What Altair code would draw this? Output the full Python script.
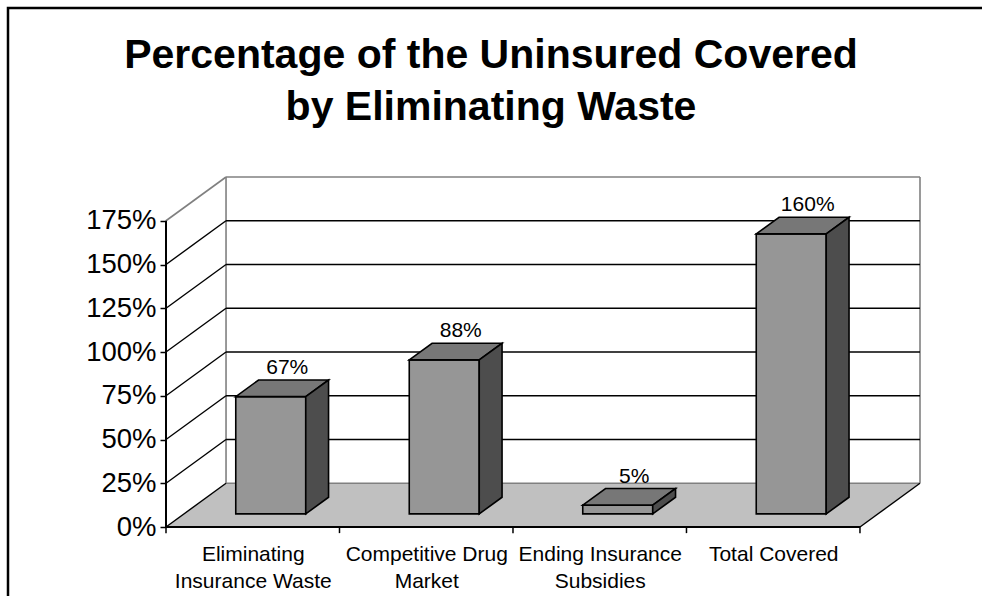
import json
import altair as alt
import pandas as pd

# ---- data ----
categories = ["Eliminating Insurance Waste", "Competitive Drug Market",
              "Ending Insurance Subsidies", "Total Covered"]
category_lines = [["Eliminating", "Insurance Waste"], ["Competitive Drug", "Market"],
                  ["Ending Insurance", "Subsidies"], ["Total Covered"]]
values = [67, 88, 5, 160]
y_ticks = [0, 25, 50, 75, 100, 125, 150, 175]
title_lines = ["Percentage of the Uninsured Covered", "by Eliminating Waste"]

# ---- 3-D styling geometry (in data units) ----
DX, DY = 0.346, 25.0          # depth of the floor / walls
OFF, BD = 0.30, 0.38          # bar depth position and thickness (fraction of depth)
HALF = 0.2017                 # half bar width
LBL_DX = 0.095
N = len(categories)
YMAX = y_ticks[-1]
FONT = "Liberation Sans"

# floor parallelogram
floor = pd.DataFrame({"x": [0, DX, N, N + DX], "y": [0, 0, 0, DY], "y2": [0, DY, DY, DY]})

# wall / grid segments
black_rows, gray_rows = [], []
sid = 0
for t in y_ticks:
    if t < YMAX:
        black_rows += [{"s": sid, "x": 0, "y": t}, {"s": sid, "x": DX, "y": t + DY}]
        sid += 1
    else:
        gray_rows += [{"s": sid, "x": 0, "y": t}, {"s": sid, "x": DX, "y": t + DY}]
        sid += 1
    if 0 < t < YMAX:
        black_rows += [{"s": sid, "x": DX, "y": t + DY}, {"s": sid, "x": N + DX, "y": t + DY}]
        sid += 1
# right floor edge
black_rows += [{"s": sid, "x": N, "y": 0}, {"s": sid, "x": N + DX, "y": DY}]; sid += 1
# back wall border (gray)
for (a, b) in [((DX, DY), (N + DX, DY)), ((N + DX, DY), (N + DX, YMAX + DY)),
               ((DX, YMAX + DY), (N + DX, YMAX + DY)), ((DX, DY), (DX, YMAX + DY))]:
    gray_rows += [{"s": sid, "x": a[0], "y": a[1]}, {"s": sid, "x": b[0], "y": b[1]}]
    sid += 1
black = pd.DataFrame(black_rows)
gray = pd.DataFrame(gray_rows)

# axis lines (front)
axis_rows = [{"s": 0, "x": 0, "y": 0}, {"s": 0, "x": N, "y": 0},
             {"s": 1, "x": 0, "y": 0}, {"s": 1, "x": 0, "y": YMAX}]
axis_df = pd.DataFrame(axis_rows)
xticks_df = pd.DataFrame({"x": list(range(N + 1)), "y": [0] * (N + 1), "y2": [-3.5] * (N + 1)})

# bars
fronts, tops, sides, labels = [], [], [], []
for i, v in enumerate(values):
    cx = i + 0.5 + OFF * DX
    x0, x1 = cx - HALF, cx + HALF
    yb = OFF * DY
    yt = yb + v
    bdx, bdy = BD * DX, BD * DY
    fronts.append({"x": x0, "x2": x1, "y": yb, "y2": yt})
    tops += [{"b": i, "x": x0, "y": yt, "y2": yt},
             {"b": i, "x": x0 + bdx, "y": yt, "y2": yt + bdy},
             {"b": i, "x": x1, "y": yt, "y2": yt + bdy},
             {"b": i, "x": x1 + bdx, "y": yt + bdy, "y2": yt + bdy}]
    sides += [{"b": i, "x": x1, "y": yb, "y2": yt},
              {"b": i, "x": x1 + bdx, "y": yb + bdy, "y2": yt + bdy}]
    labels.append({"x": cx + LBL_DX, "y": yt + bdy, "t": f"{v}%"})
fronts = pd.DataFrame(fronts)
tops = pd.DataFrame(tops)
sides = pd.DataFrame(sides)
labels = pd.DataFrame(labels)

W, H = 754, 350
xs = alt.Scale(domain=[0, N + DX], nice=False, zero=False)
ys = alt.Scale(domain=[0, YMAX + DY], nice=False, zero=False)

label_expr = json.dumps(category_lines) + "[floor(datum.value)]"
x_axis = alt.Axis(values=[i + 0.5 for i in range(N)], labelExpr=label_expr, ticks=False,
                  tickSize=0, domain=False, grid=False, title=None, labelAngle=0,
                  labelFontSize=21, labelLineHeight=27, labelPadding=16.5, labelColor="black",
                  labelFont=FONT, labelOverlap=False, labelFlush=False, labelBound=False)
y_axis = alt.Axis(values=y_ticks, labelExpr="datum.value + '%'", domain=False, grid=False,
                  title=None, tickSize=6, tickWidth=1.5, tickColor="black", labelFontSize=27.5,
                  labelPadding=4, labelColor="black", labelFont=FONT, labelOverlap=False)

X = lambda: alt.X("x:Q", scale=xs, axis=x_axis)
Y = lambda: alt.Y("y:Q", scale=ys, axis=y_axis, stack=None)

floor_layer = alt.Chart(floor).mark_area(color="#c0c0c0").encode(
    x=X(), y=Y(), y2="y2:Q")
gray_layer = alt.Chart(gray).mark_line(color="#808080", strokeWidth=1.6).encode(
    x=X(), y=Y(), detail="s:N")
black_layer = alt.Chart(black).mark_line(color="black", strokeWidth=1.4).encode(
    x=X(), y=Y(), detail="s:N")
axis_layer = alt.Chart(axis_df).mark_line(color="black", strokeWidth=2).encode(
    x=X(), y=Y(), detail="s:N")
xtick_layer = alt.Chart(xticks_df).mark_rule(color="black", strokeWidth=1.5).encode(
    x=X(), y=Y(), y2="y2:Q")
front_layer = alt.Chart(fronts).mark_rect(color="#969696", stroke="black", strokeWidth=1.6).encode(
    x=X(), x2="x2:Q", y=Y(), y2="y2:Q")
top_layer = alt.Chart(tops).mark_area(color="#777777", stroke="black", strokeWidth=1.6).encode(
    x=X(), y=Y(), y2="y2:Q", detail="b:N")
side_layer = alt.Chart(sides).mark_area(color="#4d4d4d", stroke="black", strokeWidth=1.6).encode(
    x=X(), y=Y(), y2="y2:Q", detail="b:N")
label_layer = alt.Chart(labels).mark_text(fontSize=21, font=FONT, color="black",
                                          baseline="alphabetic", dy=-6).encode(
    x=X(), y=Y(), text="t:N")
border_layer = alt.Chart(pd.DataFrame({"k": [0]})).mark_rect(
    fillOpacity=0, stroke="black", strokeWidth=2.5).encode(
    x=alt.value(-158), x2=alt.value(840), y=alt.value(-169), y2=alt.value(440))

chart = alt.layer(
    floor_layer, gray_layer, black_layer, axis_layer, xtick_layer,
    front_layer, top_layer, side_layer, label_layer, border_layer
).properties(
    width=W, height=H,
    title=alt.TitleParams(text=title_lines, fontSize=41, fontWeight="bold", font=FONT,
                          color="black", lineHeight=52, anchor="middle", dx=-52, offset=-122),
    autosize=alt.AutoSizeParams(type="none"),
    padding={"left": 166, "top": 177, "right": 62, "bottom": 69},
    background="white",
).configure_view(stroke=None)

chart.save("out.html", embed_options={"renderer": "svg", "actions": False})
